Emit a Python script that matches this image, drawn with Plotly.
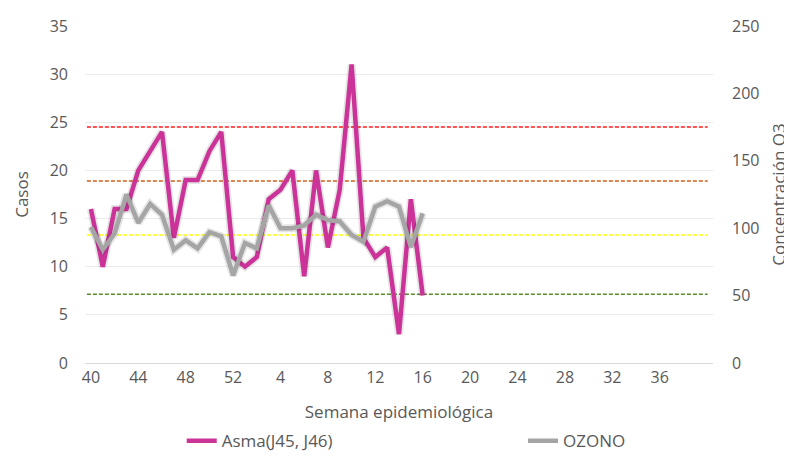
import plotly.graph_objects as go

# Categories: epidemiological weeks 40..52 then 1..40
weeks = list(range(40, 53)) + list(range(1, 41))
tick_labels = ["40", "44", "48", "52", "4", "8", "12", "16", "20", "24", "28", "32", "36"]

# Series values (weeks 40..52, 1..16)
asma = [16, 10, 16, 16, 20, 22, 24, 13, 19, 19, 22, 24, 11,
        10, 11, 17, 18, 20, 9, 20, 12, 18, 31, 13, 11, 12, 3, 17, 7]
ozono = [101, 84, 96, 125, 104, 118, 110, 84, 91, 85, 97, 94, 65,
         89, 85, 117, 100, 100, 102, 110, 106, 105, 95, 90, 116, 120, 116, 86, 111]

# Ozone quality thresholds (ppb) on the secondary axis
thresholds = [51, 95, 135, 175]
threshold_colors = ["#5B8C2F", "#FFFF00", "#D0601A", "#FF1A1A"]

idx = list(range(len(weeks)))
x_asma = idx[:len(asma)]
x_ozono = idx[:len(ozono)]
tickvals = [i for i in idx if i % 4 == 0][:len(tick_labels)]

font_family = "Open Sans, Lato, sans-serif"
txt = "#595959"
fs = 16
fs2 = 17

fig = go.Figure()

# soft shadows
fig.add_trace(go.Scatter(x=x_asma, y=asma, mode="lines", yaxis="y",
                         line=dict(color="rgba(0,0,0,0.10)", width=8),
                         hoverinfo="skip", showlegend=False))
fig.add_trace(go.Scatter(x=x_ozono, y=ozono, mode="lines", yaxis="y2",
                         line=dict(color="rgba(0,0,0,0.10)", width=8),
                         hoverinfo="skip", showlegend=False))

fig.add_trace(go.Scatter(x=x_asma, y=asma, mode="lines", name="Asma(J45, J46)",
                         yaxis="y", line=dict(color="#CC3399", width=4.5),
                         legend="legend"))
fig.add_trace(go.Scatter(x=x_ozono, y=ozono, mode="lines", name="OZONO",
                         yaxis="y2", line=dict(color="#A5A5A5", width=4.5),
                         legend="legend2"))

for val, col in zip(thresholds, threshold_colors):
    fig.add_shape(type="line", xref="paper", yref="y2",
                  x0=0.003, x1=0.9915, y0=val, y1=val,
                  line=dict(color=col, width=1.5, dash="4px,2px"), layer="below")

leg_common = dict(orientation="h", yanchor="middle", xanchor="left",
                  font=dict(size=fs2, color=txt), bgcolor="rgba(0,0,0,0)")

# page has an 8px body margin: figure is 784x448 so it fills the 792x456 window
fig.update_layout(
    width=784, height=448,
    margin=dict(l=77, r=79, t=18, b=93, autoexpand=False),
    paper_bgcolor="white", plot_bgcolor="white",
    font=dict(family=font_family, size=fs, color=txt),
    xaxis=dict(range=[-0.5, len(weeks) - 0.5], tickmode="array",
               tickvals=tickvals, ticktext=tick_labels, automargin=False,
               showgrid=False, zeroline=False, showline=True,
               linecolor="#D9D9D9", linewidth=1, ticks="",
               title=dict(text="Semana epidemiológica", standoff=18,
                          font=dict(size=fs2, color=txt))),
    yaxis=dict(range=[0, 35], dtick=5, showgrid=True, gridcolor="#EBEBEB",
               gridwidth=1, zeroline=False, showline=False, ticks="",
               ticklabelstandoff=16, automargin=False,
               title=dict(text="Casos", standoff=16, font=dict(size=fs2, color=txt))),
    yaxis2=dict(range=[0, 250], dtick=50, overlaying="y", side="right",
                showgrid=False, zeroline=False, showline=False, ticks="",
                ticklabelstandoff=18, automargin=False,
                title=dict(text="Concentración O3", standoff=14,
                           font=dict(size=fs2, color=txt))),
    legend=dict(x=0.154, y=-0.232, **leg_common),
    legend2=dict(x=0.6975, y=-0.232, **leg_common),
    showlegend=True,
)

fig.write_html("out.html")
